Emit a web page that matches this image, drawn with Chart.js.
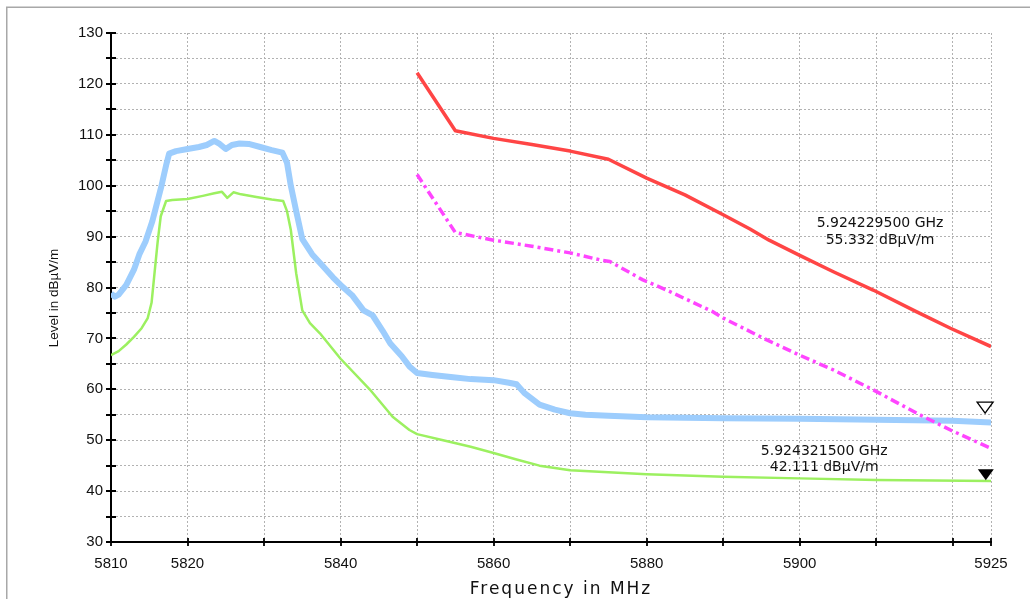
<!DOCTYPE html>
<html>
<head>
<meta charset="utf-8">
<script src="https://cdn.jsdelivr.net/npm/chart.js@4"></script>
<style>
  body { margin: 0; background: #fff; }
  canvas { display: block; }
</style>
</head>
<body>
<canvas id="spectrum" width="1030" height="599"></canvas>
<script>
// measured traces (MHz / dBµV/m)
const blueFreq = [5810, 5810.5, 5811, 5812, 5813, 5813.7, 5814.5, 5815.4, 5816, 5816.6, 5817.2, 5817.6, 5818.5, 5820, 5821.5, 5822.5, 5823.5, 5824.2, 5825, 5825.8, 5826.8, 5828, 5829.5, 5831, 5832.4, 5833, 5833.5, 5834.2, 5835, 5836.3, 5837.5, 5839, 5840, 5841.5, 5843, 5844.2, 5845.5, 5846.5, 5848, 5849, 5850, 5852, 5855, 5857, 5860, 5862, 5863, 5864, 5866, 5868, 5870, 5872, 5875, 5880, 5890, 5900, 5910, 5920, 5925];
const blueLevel = [78.8, 78.2, 78.6, 80.5, 83.5, 86.5, 89, 93, 96.5, 100, 104, 106.3, 106.8, 107.2, 107.6, 108, 108.8, 108.2, 107.2, 108, 108.3, 108.2, 107.6, 107, 106.5, 104.5, 100, 95, 89.5, 86.5, 84.5, 82, 80.5, 78.5, 75.5, 74.5, 71.5, 69, 66.5, 64.5, 63.2, 62.8, 62.3, 62, 61.8, 61.3, 61, 59.3, 57, 56, 55.3, 55, 54.8, 54.5, 54.3, 54.2, 54, 53.8, 53.5];

const greenFreq = [5810, 5811, 5812, 5813, 5814, 5814.8, 5815.3, 5815.7, 5816.1, 5816.5, 5817.2, 5818, 5820, 5822, 5823.5, 5824.5, 5825.2, 5826, 5827, 5829, 5831, 5832.5, 5833, 5833.5, 5834.2, 5835, 5836, 5837.3, 5840, 5843.8, 5846.8, 5849, 5850, 5853.4, 5857, 5860, 5863, 5866, 5870, 5875, 5880, 5890, 5900, 5910, 5925];
const greenLevel = [66.7, 67.5, 68.8, 70.3, 72, 74, 77, 83, 89, 94, 97, 97.2, 97.4, 98, 98.5, 98.8, 97.6, 98.7, 98.3, 97.8, 97.3, 97, 95, 91.3, 82.8, 75.5, 73, 71, 66, 60, 54.6, 52, 51.2, 50, 48.7, 47.5, 46.2, 45, 44.1, 43.7, 43.3, 42.8, 42.5, 42.2, 42];

const limitFreq = [5850, 5855, 5860, 5865, 5870, 5875, 5880, 5885, 5890, 5893.5, 5896, 5900, 5904.4, 5909.6, 5915.3, 5919.7, 5925];
const limitLevel = [122.2, 110.8, 109.3, 108.1, 106.8, 105.2, 101.5, 98.2, 94.3, 91.5, 89.3, 86.3, 83.1, 79.5, 75.2, 72, 68.4];

const avgLimitFreq = [5850, 5855, 5860, 5865, 5870, 5874, 5875.2, 5879.5, 5882.6, 5888.7, 5890, 5895.7, 5900, 5904.4, 5909.6, 5915.3, 5919.7, 5925];
const avgLimitLevel = [102.2, 90.8, 89.3, 88.1, 86.8, 85.4, 85.1, 81.5, 79.5, 75.2, 74, 69.7, 66.7, 63.8, 59.9, 55.3, 52, 48.4];

// markers: [freq MHz, level], open = peak trace, filled = average trace
const markerFreq = [5924.2295, 5924.3215];
const markerLevel = [55.332, 42.111];

const xTicks = [5810, 5820, 5830, 5840, 5850, 5860, 5870, 5880, 5890, 5900, 5910, 5920, 5925];
const xLabels = [5810, 5820, 5840, 5860, 5880, 5900, 5925];

const pts = (f, l) => f.map((v, i) => ({ x: v, y: l[i] }));

const overlay = {
    id: "overlay",
    beforeDraw(chart) {
        const ctx = chart.ctx;
        ctx.save();
        ctx.strokeStyle = "#a8a8a8";
        ctx.lineWidth = 1.5;
        ctx.beginPath();
        ctx.moveTo(6.75, 599);
        ctx.lineTo(6.75, 7.25);
        ctx.lineTo(1030, 7.25);
        ctx.stroke();
        ctx.restore();
    },
    afterDraw(chart) {
        const ctx = chart.ctx;
        const xs = chart.scales.x, ys = chart.scales.y;
        ctx.save();

        // tick marks crossing the axes
        ctx.strokeStyle = "#000";
        ctx.lineWidth = 1.8;
        ctx.beginPath();
        xs.ticks.forEach(t => {
            const px = Math.round(xs.getPixelForValue(t.value));
            ctx.moveTo(px, ys.bottom - 4);
            ctx.lineTo(px, ys.bottom + 4);
        });
        ys.ticks.forEach(t => {
            const py = Math.round(ys.getPixelForValue(t.value));
            ctx.moveTo(xs.left - 5, py);
            ctx.lineTo(xs.left + 5, py);
        });
        ctx.stroke();

        // marker triangles, tip on the measured point
        markerFreq.forEach((f, i) => {
            const px = xs.getPixelForValue(f), py = ys.getPixelForValue(markerLevel[i]);
            ctx.beginPath();
            ctx.moveTo(px, py);
            ctx.lineTo(px - 8, py - 11);
            ctx.lineTo(px + 8, py - 11);
            ctx.closePath();
            ctx.lineWidth = 1.3;
            ctx.strokeStyle = "#000";
            if (i === 0) {
                ctx.fillStyle = "#fff";
                ctx.fill();
                ctx.stroke();
            } else {
                ctx.fillStyle = "#000";
                ctx.fill();
            }
        });

        // marker readouts
        ctx.fillStyle = "#111";
        ctx.font = "14px 'DejaVu Sans'";
        ctx.textAlign = "center";
        ctx.textBaseline = "middle";
        const labelAt = [[5910.5, 92.6, 89.3], [5903.2, 47.9, 44.7]];
        markerFreq.forEach((f, i) => {
            const px = xs.getPixelForValue(labelAt[i][0]);
            ctx.fillText((f / 1000).toFixed(9) + " GHz", px, ys.getPixelForValue(labelAt[i][1]));
            ctx.fillText(markerLevel[i].toFixed(3) + " dBµV/m", px, ys.getPixelForValue(labelAt[i][2]));
        });

        // axis titles
        ctx.fillStyle = "#111";
        ctx.font = "17px 'DejaVu Sans'";
        ctx.letterSpacing = "2px";
        ctx.textBaseline = "alphabetic";
        ctx.fillText("Frequency in MHz", (xs.left + xs.right) / 2 + 10, 594);
        ctx.letterSpacing = "0px";
        ctx.font = "13.5px 'Liberation Sans'";
        ctx.translate(54, 298);
        ctx.rotate(-Math.PI / 2);
        ctx.textBaseline = "middle";
        ctx.fillText("Level in dBµV/m", 0, 0);
        ctx.restore();
    }
};

new Chart(document.getElementById("spectrum"), {
    type: "line",
    data: {
        datasets: [
            {
                label: "Average limit",
                data: pts(avgLimitFreq, avgLimitLevel),
                borderColor: "#ff45ff",
                borderWidth: 3.5,
                borderDash: [9, 4, 3, 4]
            },
            {
                label: "Peak limit",
                data: pts(limitFreq, limitLevel),
                borderColor: "#ff4545",
                borderWidth: 3.5
            },
            {
                label: "Average",
                data: pts(greenFreq, greenLevel),
                borderColor: "#9cf060",
                borderWidth: 2.5
            },
            {
                label: "Peak",
                data: pts(blueFreq, blueLevel),
                borderColor: "#9dcdfd",
                borderWidth: 6
            }
        ]
    },
    options: {
        responsive: false,
        animation: false,
        layout: { padding: { left: 0, top: 33, right: 39, bottom: 0 } },
        elements: { point: { radius: 0 }, line: { tension: 0, borderJoinStyle: "round", borderCapStyle: "butt" } },
        plugins: { legend: { display: false }, tooltip: { enabled: false } },
        scales: {
            x: {
                type: "linear",
                min: 5810,
                max: 5925,
                afterBuildTicks: scale => { scale.ticks = xTicks.map(v => ({ value: v })); },
                afterFit: scale => { scale.height = 57; },
                ticks: {
                    autoSkip: false,
                    maxRotation: 0,
                    padding: 13,
                    color: "#111",
                    font: { family: "Liberation Sans", size: 15 },
                    callback: v => xLabels.includes(v) ? String(v) : ""
                },
                grid: { color: "#b2b2b2", lineWidth: 1, drawTicks: false },
                border: { display: true, color: "#000", width: 2, dash: [2, 2] }
            },
            y: {
                min: 30,
                max: 130,
                afterFit: scale => { scale.width = 111; },
                ticks: {
                    stepSize: 5,
                    autoSkip: false,
                    padding: 8,
                    color: "#111",
                    font: { family: "Liberation Sans", size: 15 },
                    callback: v => v % 10 === 0 ? String(v) : ""
                },
                grid: { color: "#b2b2b2", lineWidth: 1, drawTicks: false },
                border: { display: true, color: "#000", width: 2, dash: [2, 2] }
            }
        }
    },
    plugins: [overlay]
});
</script>
</body>
</html>
